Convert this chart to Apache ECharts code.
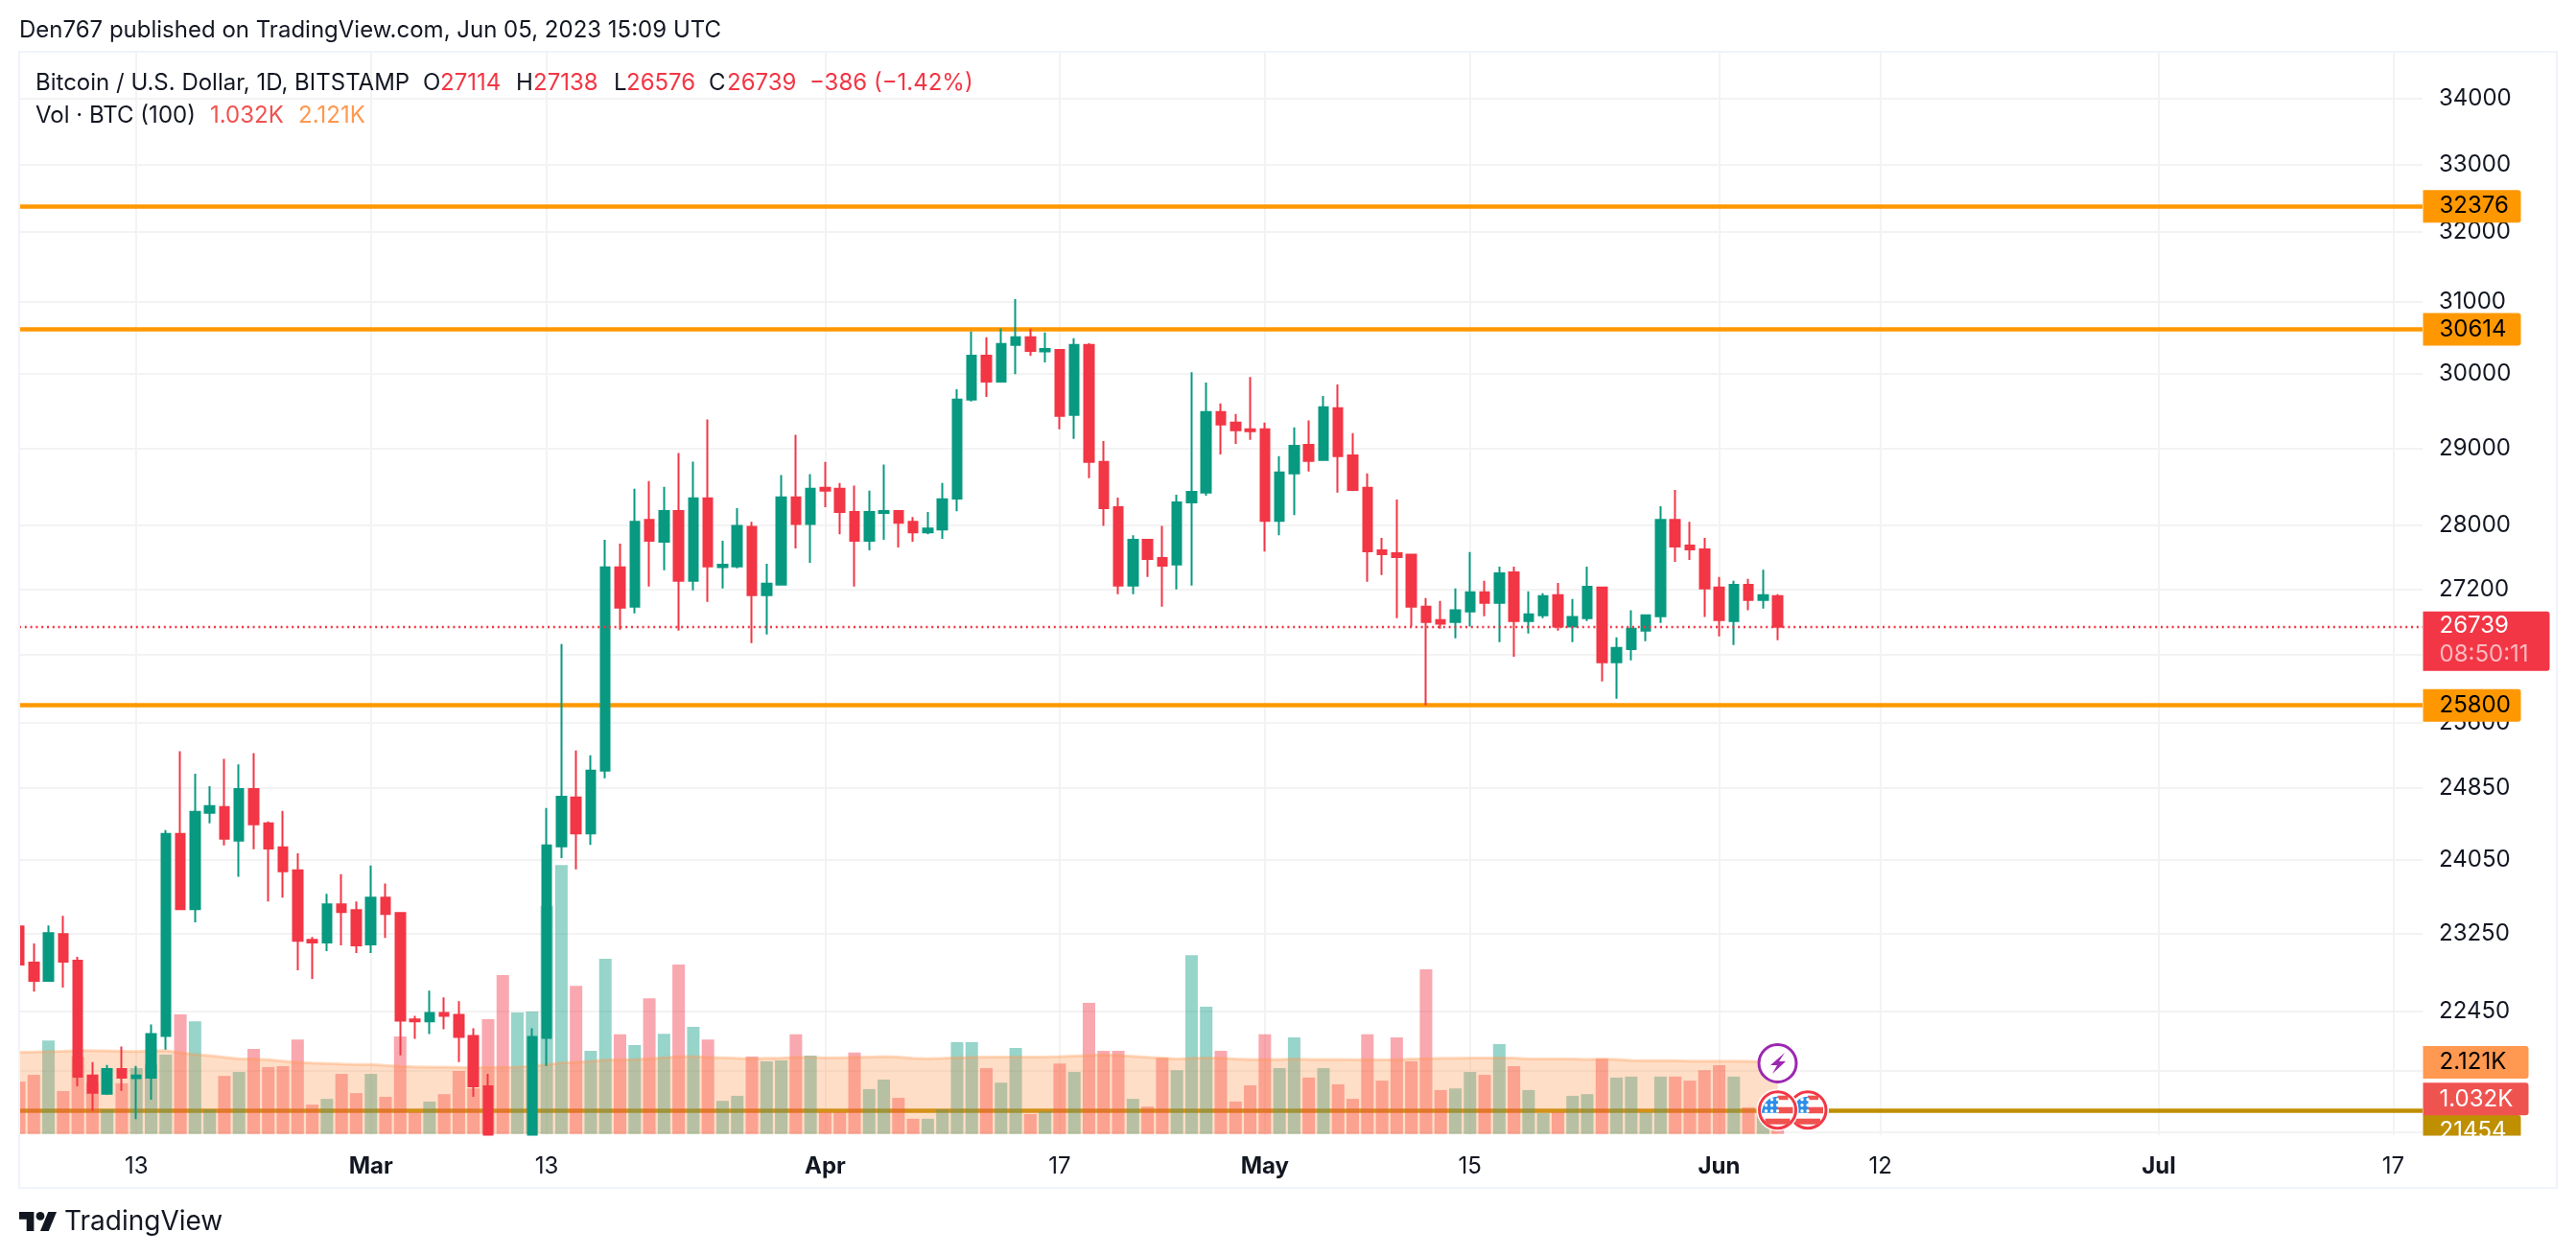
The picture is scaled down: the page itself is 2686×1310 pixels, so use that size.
<!DOCTYPE html>
<html><head><meta charset="utf-8">
<style>html,body{margin:0;padding:0;background:#fff}#c{width:2686px;height:1310px}</style>
<script src="https://cdn.jsdelivr.net/npm/echarts@6/dist/echarts.min.js"></script>
</head><body><div id="c"></div>
<script>
const dates = [
'02-05','02-06','02-07','02-08','02-09','02-10','02-11','02-12','02-13','02-14','02-15','02-16','02-17','02-18','02-19','02-20','02-21','02-22','02-23','02-24','02-25','02-26','02-27','02-28',
'03-01','03-02','03-03','03-04','03-05','03-06','03-07','03-08','03-09','03-10','03-11','03-12','03-13','03-14','03-15','03-16','03-17','03-18','03-19','03-20','03-21','03-22','03-23','03-24','03-25','03-26','03-27','03-28','03-29','03-30','03-31',
'04-01','04-02','04-03','04-04','04-05','04-06','04-07','04-08','04-09','04-10','04-11','04-12','04-13','04-14','04-15','04-16','04-17','04-18','04-19','04-20','04-21','04-22','04-23','04-24','04-25','04-26','04-27','04-28','04-29','04-30',
'05-01','05-02','05-03','05-04','05-05','05-06','05-07','05-08','05-09','05-10','05-11','05-12','05-13','05-14','05-15','05-16','05-17','05-18','05-19','05-20','05-21','05-22','05-23','05-24','05-25','05-26','05-27','05-28','05-29','05-30','05-31',
'06-01','06-02','06-03','06-04','06-05','06-06','06-07','06-08','06-09','06-10','06-11','06-12','06-13','06-14','06-15','06-16','06-17','06-18','06-19','06-20','06-21','06-22','06-23','06-24','06-25','06-26','06-27','06-28','06-29','06-30',
'07-01','07-02','07-03','07-04','07-05','07-06','07-07','07-08','07-09','07-10','07-11','07-12','07-13','07-14','07-15','07-16','07-17','07-18','07-19'];
const opens = [
23332,22950,22760,23250,22970,21800,21620,21866,21775,21780,22197,24335,23516,24570,24633,24260,24836,24452,24185,23934,23190,23160,23567,23505,
23140,23638,23475,22365,22345,22430,22410,22197,21695,20360,20150,20600,22178,24196,24740,24340,25045,27471,26985,28071,27793,28184,27303,28347,27475,27483,27984,27126,27256,28360,28020,
28485,28473,28172,27805,28160,28184,28046,27912,27948,28346,29650,30249,29893,30396,30502,30307,30329,29444,30396,28821,28233,27244,27817,27590,27506,28296,28421,29483,29342,29252,
29252,28058,28671,29046,28846,29534,28908,28483,27686,27650,27630,26985,26821,26798,26927,27161,27032,27408,26810,26880,27126,26740,26845,27220,26309,26470,26693,26868,28071,27745,27697,
27220,26810,27255,27067,27114];
const closes = [
22930,22760,23260,22960,21790,21630,21866,21780,21800,22217,24335,23516,24580,24644,24281,24836,24441,24174,23924,23180,23160,23567,23485,23130,
23638,23464,22353,22345,22430,22400,22187,21695,20360,20150,20600,22187,24206,24750,24340,25045,27471,26974,28046,27805,28184,27303,28347,27483,27503,27996,27126,27268,28360,28020,28473,
28448,28172,27805,28172,28184,28033,27912,27960,28335,29650,30249,29893,30409,30502,30316,30342,29432,30396,28821,28221,27244,27817,27578,27494,28296,28433,29483,29316,29239,29226,
28058,28683,29034,28833,29547,28896,28458,27674,27638,27602,26985,26798,26775,26939,27161,27032,27396,26810,26892,27114,26740,26857,27231,26309,26482,26716,26880,28071,27733,27697,27208,
26821,27255,27067,27126,26739];
const lows = [
22920,22650,22760,22690,21695,21450,21610,21650,21373,21563,22060,23516,23373,24452,24206,23863,24164,23597,23638,22870,22780,23070,23130,23050,
23050,23210,22002,22168,22216,22265,21934,21590,19570,19550,19900,20450,21895,24068,23944,24212,24957,26704,26903,27232,27435,26693,27184,27044,27208,27459,26540,26646,27256,27709,27530,
28234,27889,27232,27684,27817,27721,27793,27889,27829,28183,29625,29688,29893,29996,30249,30155,29252,29124,28608,27996,27138,27138,27351,26985,27196,27244,28383,28921,29060,29111,
27669,27877,28133,28696,28833,28421,28446,27291,27375,26845,26740,25800,26716,26599,26740,26868,26552,26377,26658,26845,26693,26552,26810,26083,25879,26332,26564,26786,27542,27566,26857,
26622,26517,26939,26962,26576];
const highs = [
23350,23150,23342,23444,23010,21935,21905,22090,21895,22314,24377,25268,25008,24868,25180,25116,25246,24473,24590,24121,23220,23679,23893,23597,
23985,23791,23485,22400,22660,22590,22550,22275,21818,20400,20850,22275,24622,26529,25276,25221,27817,27769,28473,28573,28498,28937,28824,29384,27805,28222,28046,27518,28649,29179,28661,
28822,28548,28511,28448,28787,28197,28109,28172,28548,29791,30582,30502,30627,31036,30622,30569,30342,30489,30422,29098,28358,27877,27830,27996,28396,30021,29880,29598,29457,29957,
29342,28896,29278,29371,29701,29855,29201,28671,27841,28333,27642,27091,27056,27208,27663,27304,27480,27480,27173,27149,27278,27079,27480,27220,26611,26939,26892,28246,28458,28046,27841,
27351,27304,27327,27442,27138];
const volumes = [
1.55,1.75,2.77,1.27,2.29,1.52,0.73,1.50,1.95,2.06,2.35,3.54,3.34,0.73,1.72,1.84,2.52,1.98,2.01,2.80,0.87,1.04,1.78,1.21,
1.78,1.10,2.89,0.64,0.96,1.18,1.87,1.35,3.40,4.71,3.60,3.63,6.75,7.97,4.39,2.46,5.19,2.95,2.63,4.02,2.97,5.02,3.17,2.80,0.98,1.13,2.29,2.15,2.18,2.95,2.32,
0.64,0.64,2.41,1.33,1.61,1.07,0.45,0.45,0.73,2.72,2.72,1.95,1.52,2.55,0.59,0.67,2.09,1.84,3.88,2.46,2.46,1.04,0.81,2.26,1.89,5.30,3.77,2.46,0.96,1.44,
2.95,1.95,2.86,1.67,1.95,1.47,1.04,2.95,1.58,2.86,2.15,4.88,1.30,1.35,1.84,1.75,2.66,2.01,1.30,0.62,0.64,1.13,1.18,2.23,1.67,1.70,0.64,1.70,1.70,1.58,1.89,
2.04,1.70,0.79,0.74,1.032];
const volumeMa = [
2.42,2.43,2.44,2.45,2.47,2.47,2.46,2.45,2.44,2.46,2.47,2.41,2.35,2.32,2.27,2.23,2.22,2.20,2.16,2.12,2.10,2.09,2.07,2.06,
2.06,2.03,2.00,1.99,1.98,1.98,1.97,1.96,1.97,1.97,1.98,2.01,2.05,2.11,2.12,2.15,2.19,2.20,2.21,2.23,2.26,2.29,2.29,2.27,2.26,2.24,2.23,2.24,2.25,2.27,2.27,
2.26,2.26,2.27,2.28,2.29,2.28,2.24,2.23,2.24,2.26,2.27,2.28,2.28,2.28,2.28,2.28,2.29,2.31,2.33,2.34,2.33,2.30,2.27,2.25,2.22,2.24,2.25,2.25,2.22,2.21,
2.21,2.21,2.22,2.21,2.21,2.21,2.20,2.20,2.20,2.20,2.22,2.23,2.24,2.24,2.25,2.25,2.25,2.25,2.22,2.22,2.22,2.22,2.21,2.22,2.21,2.18,2.17,2.17,2.17,2.16,2.16,
2.16,2.16,2.15,2.14,2.121];
const xTickLabels = {'02-13':'13','03-01':'Mar','03-13':'13','04-01':'Apr','04-17':'17','05-01':'May','05-15':'15','06-01':'Jun','06-12':'12','07-01':'Jul','07-17':'17'};
const yTicks = [34000,33000,32000,31000,30000,29000,28000,27200,26400,25600,24850,24050,23250,22450,21850,21250];
const goldLevels = [32376,30614,25800];
const baseLevel = 21454;
const lastPrice = 26739;

const UP='#089981',DOWN='#F23645',FONT='Inter, "Noto Sans", sans-serif',INK='#131722';
const GRID='#F3F3F3',FS=24;
const lastCat = dates[dates.length-1];

function box(val,text,bg,color,width,dy){
  return {coord:[lastCat,val],symbol:'circle',symbolSize:1,itemStyle:{color:'rgba(0,0,0,0)'},
    label:{show:true,position:'right',distance:0,offset:[0,dy||0],formatter:text,color:color,backgroundColor:bg,
      fontFamily:FONT,fontSize:FS,width:width-17,height:34,lineHeight:34,padding:[0,0,0,17],borderRadius:[0,3,3,0],align:'left',verticalAlign:'middle'}};
}
function t(text,x,yc,color,size,weight){
  const s=size||FS;
  return {text:text,left:x,top:yc-s/2-1,padding:0,textStyle:{color:color||INK,fontFamily:FONT,fontSize:s,fontWeight:weight||400,lineHeight:s+2}};
}
const RED='#F23645';
const chart=echarts.init(document.getElementById('c'),null,{renderer:'canvas'});
function flag(cx,cy){
  const r=18,els=[
   {type:'circle',shape:{cx,cy,r:r+4},style:{fill:'#fff'}},
   {type:'circle',shape:{cx,cy,r:r+1},style:{fill:'#fff',stroke:RED,lineWidth:3}},
   {type:'rect',shape:{x:cx,y:cy-15,width:11,height:4.5},style:{fill:'#F0524F'}},
   {type:'rect',shape:{x:cx,y:cy-3,width:16,height:6.5},style:{fill:'#F0524F'}},
   {type:'rect',shape:{x:cx-13,y:cy+9,width:26,height:6},style:{fill:'#F0524F'}},
   {type:'sector',shape:{cx:cx+0.5,cy:cy+3,r:17,r0:0,startAngle:Math.PI,endAngle:Math.PI*1.5},style:{fill:'#2D8FE8'}},
  ];
  [-10,-4,2].forEach(dy=>[-11,-5,1].forEach(dx=>{ if(dx>-11||dy>-10) els.push({type:'circle',shape:{cx:cx+dx-1,cy:cy+dy-1,r:1.7},style:{fill:'#fff'}}); }));
  return els;
}
const lx=v=>20+v*1.099, ly=v=>1264+(v-4)*1.111;
const decorations=[
  {type:'rect',shape:{x:0,y:54,width:19,height:1185},style:{fill:'#fff'}},
  {type:'rect',shape:{x:0,y:1184.5,width:2650,height:54},style:{fill:'#fff'}},
  {type:'rect',shape:{x:480,y:1238,width:140,height:72},style:{fill:'#fff'}},
  {type:'rect',shape:{x:20,y:54,width:2646,height:1185},style:{fill:'none',stroke:'#F0F3FA',lineWidth:2}},
  {type:'circle',shape:{cx:1853.5,cy:1109,r:21},style:{fill:'#fff'}},
  {type:'circle',shape:{cx:1853.5,cy:1109,r:19.5},style:{fill:'#fff',stroke:'#9C27B0',lineWidth:3}},
  {type:'polygon',shape:{points:[[1861,1098],[1846,1111],[1853,1111],[1848,1120],[1862,1107],[1855,1107]]},style:{fill:'#9C27B0'}},
  ...flag(1885,1157.7),
  ...flag(1853.5,1157.7),
  {type:'polygon',shape:{points:[[0,4],[14,4],[14,22],[7,22],[7,11],[0,11]].map(p=>[lx(p[0]),ly(p[1])])},style:{fill:'#131722'}},
  {type:'polygon',shape:{points:[[20,22],[27.5,4],[35.5,4],[28,22]].map(p=>[lx(p[0]),ly(p[1])])},style:{fill:'#131722'}},
  {type:'circle',shape:{cx:lx(20),cy:ly(8),r:4.4},style:{fill:'#131722'}}
].map(e=>Object.assign(e,{silent:true,z:100}));
const option={
  animation:false,backgroundColor:'#fff',
  title:[
    t('Den767 published on TradingView.com, Jun 05, 2023 15:09 UTC',20,32),
    t('Bitcoin / U.S. Dollar, 1D, BITSTAMP',37,87),
    t('O',441,87),t('27114',459,87,RED),
    t('H',538,87),t('27138',556,87,RED),
    t('L',640,87),t('26576',653,87,RED),
    t('C',739,87),t('26739',758,87,RED),
    t('−386 (−1.42%)',844,87,RED),
    t('Vol · BTC (100)',37,121),t('1.032K',219,121,'#EF5350'),t('2.121K',311,121,'#FF9850'),
    t('TradingView',67,1275,'#131722',28)
  ],
  grid:[
    {left:20,right:160,top:54,height:1130,containLabel:false},
    {left:20,right:160,top:54,height:1128.7,containLabel:false}
  ],
  xAxis:[
    {type:'category',gridIndex:0,data:dates,boundaryGap:false,axisLine:{show:false},axisTick:{show:false},axisLabel:{show:false},
     splitLine:{show:true,interval:(i,v)=>!!xTickLabels[v],lineStyle:{color:GRID,width:2}}},
    {type:'category',gridIndex:1,data:dates,boundaryGap:false,z:101,axisLine:{show:false},axisTick:{show:false},splitLine:{show:false},
     axisLabel:{interval:(i,v)=>!!xTickLabels[v],margin:22,color:INK,fontFamily:FONT,fontSize:FS,hideOverlap:false,showMinLabel:true,showMaxLabel:true,
       formatter:v=>{const l=xTickLabels[v]||'';return /\d/.test(l)?l:'{b|'+l+'}';},rich:{b:{fontWeight:700,fontSize:FS,fontFamily:FONT,color:INK}}}}
  ],
  yAxis:[
    {type:'log',gridIndex:0,position:'right',min:21216.7,max:34734.6,axisLine:{show:false},
     axisTick:{show:false,customValues:yTicks},
     splitLine:{show:true,lineStyle:{color:GRID,width:2}},
     axisLabel:{customValues:yTicks,margin:17,padding:[6,0,0,0],color:INK,fontFamily:FONT,fontSize:FS,align:'left',showMinLabel:true,showMaxLabel:true,hideOverlap:false,formatter:v=>String(Math.round(v))}},
    {type:'value',gridIndex:1,min:0,max:32.065,show:false,splitLine:{show:false}}
  ],
  series:[
    {name:'Levels',type:'line',xAxisIndex:0,yAxisIndex:0,data:[],z:1,silent:true,
     markLine:{silent:true,z:1,symbol:'none',animation:false,label:{show:false},
       data:[...goldLevels.map(v=>({yAxis:v,lineStyle:{color:'#FF9800',width:4.5,type:'solid'}})),{yAxis:baseLevel,lineStyle:{color:'#BF8F00',width:4.5,type:'solid'}}]}},
    {name:'Volume',type:'bar',xAxisIndex:1,yAxisIndex:1,z:2,barWidth:13,silent:true,
     data:volumes.map((v,i)=>({value:v,itemStyle:{color:closes[i]>=opens[i]?'rgba(8,153,129,0.42)':'rgba(242,54,69,0.43)'}}))},
    {name:'Vol MA',type:'line',xAxisIndex:1,yAxisIndex:1,z:3,data:volumeMa,showSymbol:false,silent:true,
     lineStyle:{color:'rgba(255,152,80,0.35)',width:3},areaStyle:{color:'rgba(255,152,80,0.45)',origin:'start'}},
    {name:'BTCUSD',type:'candlestick',xAxisIndex:0,yAxisIndex:0,z:4,barWidth:10,silent:true,clip:true,
     data:opens.map((o,i)=>[o,closes[i],lows[i],highs[i]]),
     itemStyle:{color:UP,color0:DOWN,borderColor:UP,borderColor0:DOWN,borderWidth:2}},
    {name:'Last',type:'line',xAxisIndex:0,yAxisIndex:0,data:[],z:5,silent:true,
     markLine:{silent:true,z:5,symbol:'none',animation:false,label:{show:false},
       data:[{yAxis:lastPrice,lineStyle:{color:RED,width:2.4,type:[2,3.8]}}]},
     markPoint:{silent:true,z:6,animation:false,data:[
       box(32376,'32376','#FF9800','#000',102),
       box(30614,'30614','#FF9800','#000',102),
       box(25800,'25800','#FF9800','#000',102),
       box(baseLevel,'21454','#BF8F00','#fff',102,21.5),
       {coord:[lastCat,lastPrice],symbol:'circle',symbolSize:1,itemStyle:{color:'rgba(0,0,0,0)'},
        label:{show:true,position:'right',distance:0,offset:[0,15],backgroundColor:RED,borderRadius:[0,3,3,0],width:115,height:62,padding:[0,0,0,17],align:'left',
          formatter:'{a|26739}\n{b|08:50:11}',rich:{a:{color:'#fff',fontFamily:FONT,fontSize:FS,lineHeight:31},b:{color:'#FBB9BF',fontFamily:FONT,fontSize:FS,lineHeight:28}}}}
     ]}},
    {name:'VolLabels',type:'line',xAxisIndex:1,yAxisIndex:1,data:[],z:7,silent:true,
     markPoint:{silent:true,z:7,animation:false,data:[
       box(2.121,'2.121K','#FF9850','#000',110),
       box(1.032,'1.032K','#EF5350','#fff',110)
     ]}}
  ],
  graphic:{elements:decorations}
};
chart.setOption(option);
</script></body></html>
